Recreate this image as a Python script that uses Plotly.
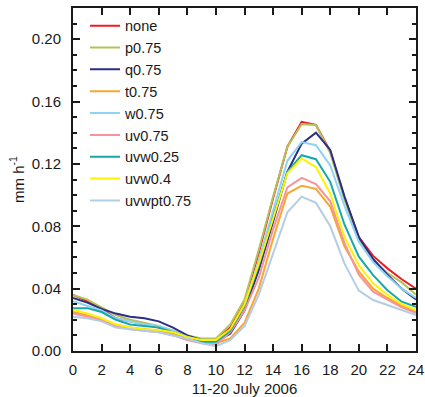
import plotly.graph_objects as go

hours = list(range(25))

none_v = [0.036, 0.032, 0.027, 0.021, 0.019, 0.017, 0.015, 0.012, 0.009, 0.007, 0.007, 0.015, 0.031,
          0.063, 0.098, 0.131, 0.147, 0.145, 0.128, 0.098, 0.073, 0.061, 0.053, 0.046, 0.040]
p075 = [0.036, 0.033, 0.028, 0.023, 0.020, 0.018, 0.016, 0.013, 0.010, 0.008, 0.008, 0.017, 0.033,
        0.065, 0.099, 0.131, 0.1455, 0.145, 0.127, 0.097, 0.071, 0.058, 0.050, 0.044, 0.036]
q075 = [0.034, 0.031, 0.027, 0.024, 0.022, 0.021, 0.019, 0.015, 0.010, 0.007, 0.006, 0.011, 0.026,
        0.052, 0.083, 0.115, 0.133, 0.140, 0.129, 0.099, 0.073, 0.059, 0.049, 0.040, 0.033]
t075 = [0.025, 0.023, 0.020, 0.017, 0.015, 0.014, 0.013, 0.011, 0.008, 0.006, 0.005, 0.008, 0.018,
        0.040, 0.072, 0.101, 0.106, 0.104, 0.0925, 0.067, 0.051, 0.040, 0.034, 0.029, 0.025]
w075 = [0.032, 0.029, 0.026, 0.021, 0.019, 0.017, 0.016, 0.013, 0.009, 0.006, 0.005, 0.013, 0.029,
        0.058, 0.090, 0.122, 0.134, 0.132, 0.119, 0.093, 0.070, 0.057, 0.048, 0.040, 0.034]
uv075 = [0.024, 0.022, 0.020, 0.016, 0.014, 0.013, 0.012, 0.010, 0.007, 0.005, 0.004, 0.012, 0.026,
         0.047, 0.078, 0.105, 0.111, 0.107, 0.096, 0.069, 0.049, 0.038, 0.033, 0.028, 0.0243]
uvw025 = [0.0275, 0.0275, 0.025, 0.020, 0.017, 0.016, 0.015, 0.012, 0.009, 0.006, 0.006, 0.013, 0.029,
          0.055, 0.086, 0.115, 0.1256, 0.123, 0.1085, 0.081, 0.0605, 0.0487, 0.039, 0.0316, 0.0284]
uvw04 = [0.0265, 0.024, 0.021, 0.017, 0.015, 0.014, 0.0135, 0.012, 0.009, 0.007, 0.007, 0.014, 0.030,
         0.056, 0.085, 0.114, 0.1235, 0.118, 0.101, 0.073, 0.055, 0.0434, 0.036, 0.030, 0.0263]
uvwpt075 = [0.022, 0.021, 0.019, 0.015, 0.014, 0.013, 0.012, 0.010, 0.008, 0.005, 0.003, 0.007, 0.016,
            0.036, 0.062, 0.089, 0.099, 0.095, 0.080, 0.056, 0.0387, 0.0327, 0.0295, 0.0263, 0.023]

series_names = ["none", "p0.75", "q0.75", "t0.75", "w0.75", "uv0.75", "uvw0.25", "uvw0.4", "uvwpt0.75"]
series_values = [none_v, p075, q075, t075, w075, uv075, uvw025, uvw04, uvwpt075]
series_colors = ["#ee1c25", "#b5c25b", "#2b2e83", "#f7a731", "#8ed3f5", "#f7939a", "#16a9a9", "#fff200", "#b3cde6"]

FONT = "Liberation Sans, Arial, sans-serif"

fig = go.Figure()
for name, vals, col in zip(series_names, series_values, series_colors):
    fig.add_trace(go.Scatter(x=hours, y=vals, mode="lines", name=name,
                             line=dict(color=col, width=2)))

axis_common = dict(
    showline=True, linecolor="#1a1a1a", linewidth=2, mirror="ticks",
    ticks="inside", ticklen=7, tickwidth=1.5, tickcolor="#1a1a1a",
    showgrid=False, zeroline=False, automargin=False,
    tickfont=dict(family=FONT, size=15, color="#1a1a1a"),
)

fig.update_layout(
    width=425, height=397,
    margin=dict(l=73, r=9, t=8, b=46),
    paper_bgcolor="white", plot_bgcolor="white",
    font=dict(family=FONT, size=15, color="#1a1a1a"),
    showlegend=True,
    legend=dict(x=0.035, y=0.995, xanchor="left", yanchor="top",
                bgcolor="rgba(0,0,0,0)", borderwidth=0, itemwidth=30,
                font=dict(family=FONT, size=14.5, color="#1a1a1a"), tracegroupgap=0),
    xaxis=dict(range=[0, 24], dtick=2, tick0=0, ticklabelstandoff=4,
               title=dict(text="11-20 July 2006", standoff=12, font=dict(family=FONT, size=15)),
               **axis_common),
    yaxis=dict(range=[0, 0.22], dtick=0.04, tick0=0, tickformat=".2f", ticklabelstandoff=7,
               minor=dict(dtick=0.01, ticks="inside", ticklen=4, tickcolor="#1a1a1a"),
               title=dict(text="mm h<sup>-1</sup>", standoff=4, font=dict(family=FONT, size=15)),
               **axis_common),
)

fig.write_html("out.html", config={"displayModeBar": False},
               post_script="document.body.style.margin='0px';document.body.style.overflow='hidden';")
